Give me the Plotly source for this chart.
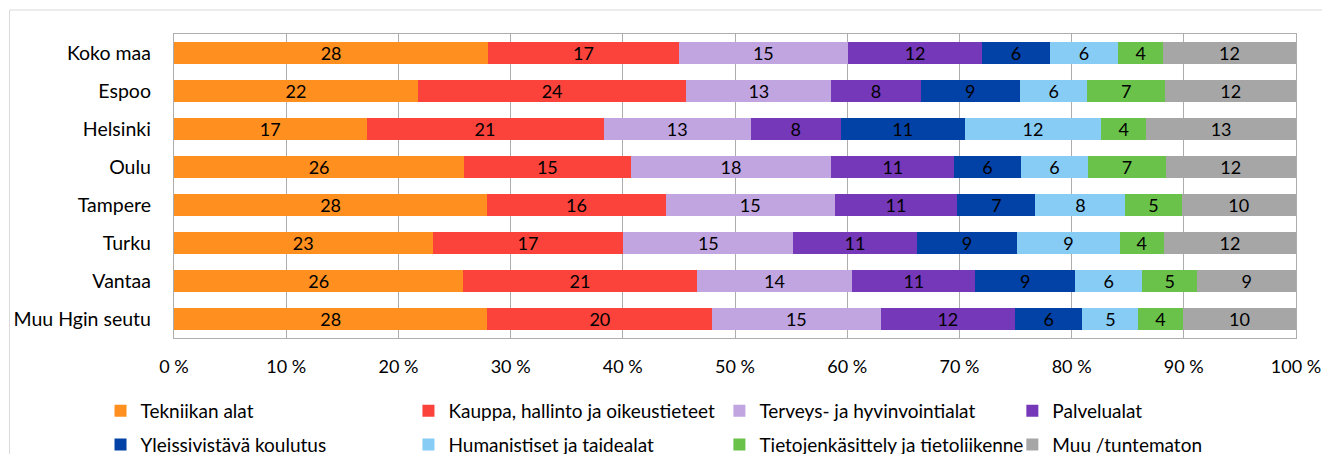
import plotly.graph_objects as go

categories = ["Koko maa", "Espoo", "Helsinki", "Oulu", "Tampere", "Turku", "Vantaa", "Muu Hgin seutu"]

series_names = [
    "Tekniikan alat",
    "Kauppa, hallinto ja oikeustieteet",
    "Terveys- ja hyvinvointialat",
    "Palvelualat",
    "Yleissivistävä koulutus",
    "Humanistiset ja taidealat",
    "Tietojenkäsittely ja tietoliikenne",
    "Muu /tuntematon",
]

tekniikan_alat = [28.0, 21.75, 17.16, 25.86, 27.91, 23.04, 25.78, 27.94]
kauppa_hallinto = [17.0, 23.9, 21.12, 14.83, 15.92, 17.02, 20.79, 20.03]
terveys_hyvinvointi = [15.05, 12.95, 13.13, 17.91, 15.04, 15.13, 13.9, 15.0]
palvelualat = [12.0, 7.95, 8.02, 10.94, 10.96, 10.99, 10.94, 12.0]
yleissivistava = [6.0, 8.85, 11.05, 5.91, 6.95, 8.97, 8.91, 6.0]
humanistiset = [6.1, 6.0, 12.16, 6.03, 8.02, 9.12, 5.97, 4.97]
tietojenkasittely = [4.0, 6.95, 4.01, 6.89, 5.0, 3.95, 4.93, 3.97]
muu_tuntematon = [11.85, 11.65, 13.35, 11.63, 10.2, 11.78, 8.78, 10.09]

series_values = [tekniikan_alat, kauppa_hallinto, terveys_hyvinvointi, palvelualat,
                 yleissivistava, humanistiset, tietojenkasittely, muu_tuntematon]

colors = ["#FF8F1F", "#FC433B", "#C1A5E0", "#7538B9", "#0242A6", "#86CCF5", "#6BC24A", "#A6A6A6"]

x_ticks = [0, 10, 20, 30, 40, 50, 60, 70, 80, 90, 100]
x_tick_labels = [f"{t} %" for t in x_ticks]

FONT = "Lato"
# legend column assignment (4 columns, 2 rows)
legend_ids = ["legend", "legend2", "legend3", "legend4", "legend", "legend2", "legend3", "legend4"]

fig = go.Figure()
for i, (name, vals, col) in enumerate(zip(series_names, series_values, colors)):
    fig.add_trace(go.Bar(
        y=categories, x=vals, name=name, orientation="h",
        marker=dict(color=col, line=dict(width=0)),
        texttemplate="%{x:.0f}", textposition="inside", insidetextanchor="middle",
        textangle=0, textfont=dict(family=FONT, size=18, color="black"),
        legend=legend_ids[i], legendgroup=name,
    ))

# page offset (browser body margin)
OFF = 8
# plot area in page pixels
PL, PR, PT, PB = 173.5, 1295.7, 34, 338
W, H = 1330 - OFF, 454 - OFF
L = PL - OFF
T = PT - OFF
R = W - (PR - OFF)
B = H - (PB - OFF)
pw = PR - PL
ph = PB - PT

def px_x(p):
    return (p - PL) / pw

def px_y(p):
    return (PB - p) / ph

leg_common = dict(orientation="v", xanchor="left", yanchor="middle",
                  font=dict(family=FONT, size=19, color="black"),
                  bgcolor="rgba(0,0,0,0)", tracegroupgap=6, traceorder="grouped",
                  itemclick=False)
marker_centers = [120, 428, 739, 1032]
legends = {}
for k, mc in enumerate(marker_centers):
    key = "legend" if k == 0 else f"legend{k+1}"
    legends[key] = dict(leg_common, x=px_x(mc - 20), y=px_y(428))

fig.update_layout(
    barmode="stack",
    width=W, height=H,
    margin=dict(l=L, r=R, t=T, b=B, autoexpand=False),
    paper_bgcolor="white", plot_bgcolor="white",
    bargap=0.43,
    font=dict(family=FONT, size=18, color="black"),
    uniformtext=dict(minsize=18, mode="show"),
    xaxis=dict(range=[0, 100], tickvals=x_ticks, ticktext=x_tick_labels,
               showgrid=True, gridcolor="#ADADAD", gridwidth=1.3,
               showline=True, linecolor="#ADADAD", linewidth=1.3, mirror=True,
               zeroline=False, ticks="", ticklabelstandoff=12,
               tickfont=dict(family=FONT, size=18, color="black"), fixedrange=True),
    yaxis=dict(autorange="reversed", showgrid=False,
               showline=True, linecolor="#ADADAD", linewidth=1.3, mirror=True,
               ticks="", ticklabelstandoff=18,
               tickfont=dict(family=FONT, size=19.5, color="black"), fixedrange=True),
    showlegend=True,
    **legends,
    shapes=[
        dict(type="line", xref="paper", yref="paper", x0=px_x(9), x1=px_x(1335), y0=px_y(10), y1=px_y(10),
             line=dict(color="#D9D9D9", width=1)),
        dict(type="line", xref="paper", yref="paper", x0=px_x(9), x1=px_x(9), y0=px_y(10), y1=px_y(460),
             line=dict(color="#D9D9D9", width=1)),
    ],
)

fig.write_html("out.html")
